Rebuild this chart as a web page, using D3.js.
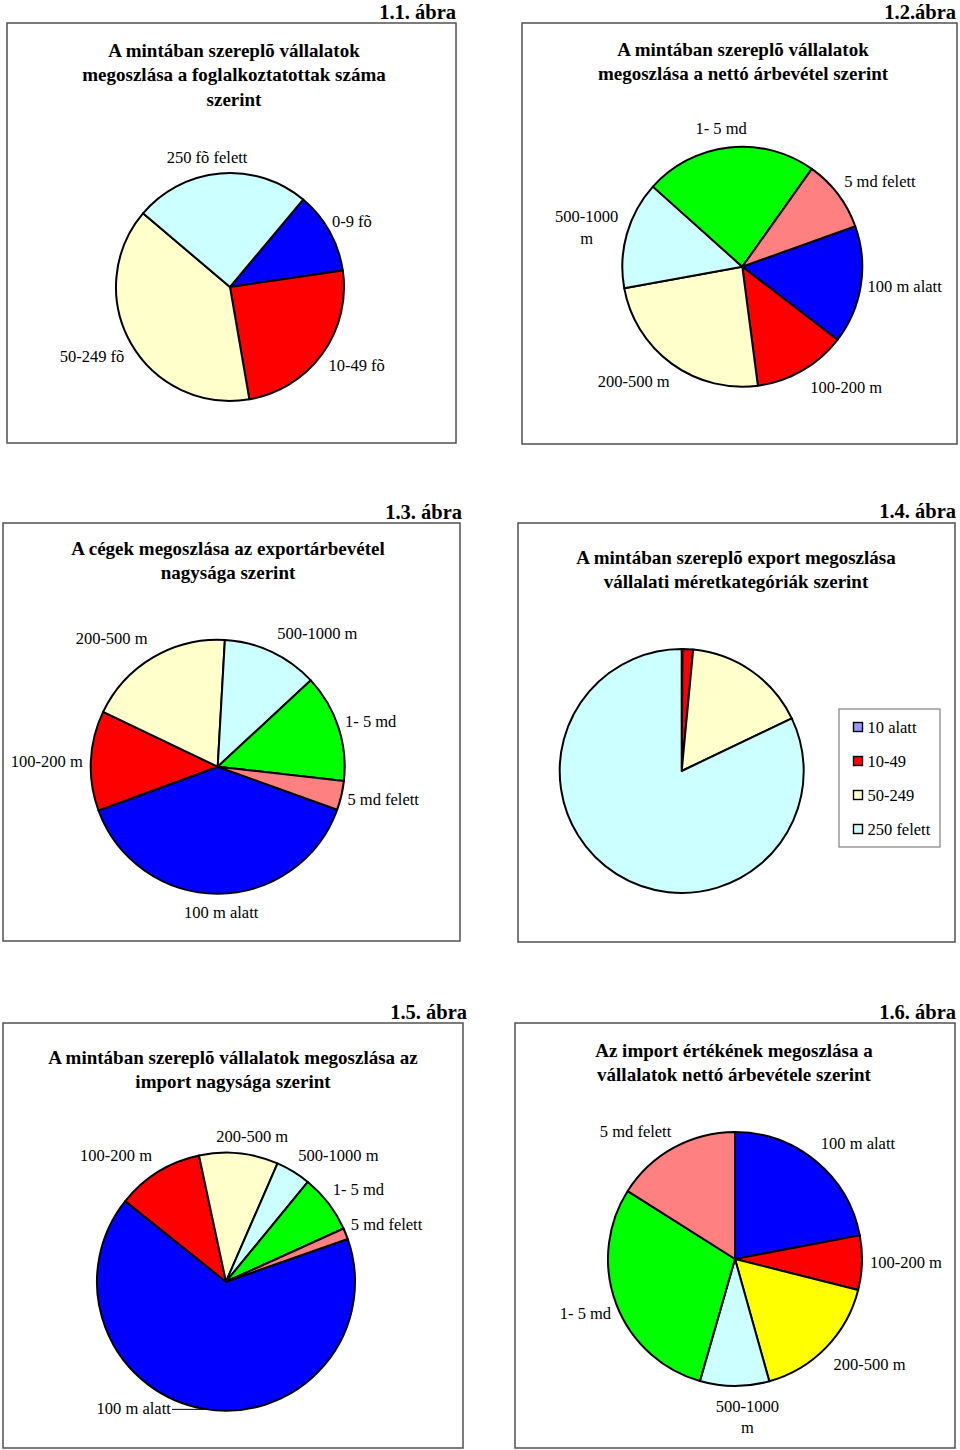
<!DOCTYPE html>
<html><head><meta charset="utf-8">
<script src="https://cdn.jsdelivr.net/npm/d3@7"></script>
<style>body{margin:0;background:#fff}svg{display:block}</style>
</head><body><svg id="c" width="960" height="1450"></svg>
<script>
// ---------- data ----------
const cats1 = ["0-9 fõ", "10-49 fõ", "50-249 fõ", "250 fõ felett"];
const vals1 = [11.6, 24.6, 38.9, 24.9];
const cats2 = ["100 m alatt", "100-200 m", "200-500 m", "500-1000 m", "1- 5 md", "5 md felett"];
const vals2 = [15.9, 12.5, 24.2, 14.5, 23.2, 9.7];
const cats3 = ["100 m alatt", "100-200 m", "200-500 m", "500-1000 m", "1- 5 md", "5 md felett"];
const vals3 = [38.9, 12.7, 18.8, 12.2, 13.7, 3.7];
const cats4 = ["10 alatt", "10-49", "50-249", "250 felett"];
const vals4 = [0.1, 1.4, 16.4, 82.1];
const cats5 = ["100 m alatt", "100-200 m", "200-500 m", "500-1000 m", "1- 5 md", "5 md felett"];
const vals5 = [66.1, 10.9, 9.9, 4.4, 7.3, 1.4];
const cats6 = ["100 m alatt", "100-200 m", "200-500 m", "500-1000 m", "1- 5 md", "5 md felett"];
const vals6 = [22.0, 6.9, 16.7, 8.8, 29.5, 16.0];

const titles1 = ["A mintában szereplõ vállalatok", "megoszlása a foglalkoztatottak száma", "szerint"];
const titles2 = ["A mintában szereplõ vállalatok", "megoszlása a nettó árbevétel szerint"];
const titles3 = ["A cégek megoszlása az exportárbevétel", "nagysága szerint"];
const titles4 = ["A mintában szereplõ export megoszlása", "vállalati méretkategóriák szerint"];
const titles5 = ["A mintában szereplõ vállalatok megoszlása az", "import nagysága szerint"];
const titles6 = ["Az import értékének megoszlása a", "vállalatok nettó árbevétele szerint"];
const tags = ["1.1. ábra", "1.2.ábra", "1.3. ábra", "1.4. ábra", "1.5. ábra", "1.6. ábra"];

// ---------- styles ----------
const colA = ["#0000FF", "#FF0000", "#FFFFCC", "#CCFFFF"];
const colB = ["#0000FF", "#FF0000", "#FFFFCC", "#CCFFFF", "#00FF00", "#FF8080"];
const colC = ["#9999FF", "#FF0000", "#FFFFCC", "#CCFFFF"];
const colD = ["#0000FF", "#FF0000", "#FFFF00", "#CCFFFF", "#00FF00", "#FF8080"];
const FONT = "'Liberation Serif','Times New Roman',serif";
const LBL = 16.5;

const svg = d3.select("#c");

const charts = [
  {cats: cats1, vals: vals1, cols: colA, titles: titles1, tag: tags[0],
   box: [7, 23, 456, 443], tagX: 456, tagY: 19, titleX: 234, titleY: 50, cx: 230, cy: 287, r: 114, start: 39.9,
   nudge: {0: [-2, 1], 1: [5, 4], 2: [-4, 7], 3: [-9, 3]}},
  {cats: cats2, vals: vals2, cols: colB, titles: titles2, tag: tags[1],
   box: [522, 23, 957, 444], tagX: 956, tagY: 19, titleX: 743, titleY: 49, cx: 742.3, cy: 266.7, r: 120, start: 70.3,
   wrap: [3], nudge: {0: [-1, 1], 1: [22, 5], 2: [-12, 7], 3: [-2, 3], 4: [-4, 0], 5: [7, 0]}},
  {cats: cats3, vals: vals3, cols: colB, titles: titles3, tag: tags[2],
   box: [3, 523, 460, 941], tagX: 462, tagY: 519, titleX: 228, titleY: 548, cx: 217.7, cy: 766.7, r: 127, start: 109.8,
   nudge: {0: [3, 4], 1: [0, 4], 2: [-19, -2], 3: [25, -1], 4: [0, 2], 5: [-1, 2]}},
  {cats: cats4, vals: vals4, cols: colC, titles: titles4, tag: tags[3],
   box: [518, 523, 955, 942], tagX: 956, tagY: 518, titleX: 736, titleY: 557, cx: 681.7, cy: 771, r: 122, start: 0,
   legend: {x: 839, y: 709, w: 101, h: 138}, nudge: {}},
  {cats: cats5, vals: vals5, cols: colB, titles: titles5, tag: tags[4],
   box: [3, 1023, 463, 1448], tagX: 467, tagY: 1019, titleX: 233, titleY: 1057, cx: 226, cy: 1281.7, r: 129, start: 70.7,
   leader: 0, nudge: {0: [-63, -15], 1: [-19, 0], 2: [9, 2], 3: [20, 0], 4: [3, -1], 5: [0, -1]}},
  {cats: cats6, vals: vals6, cols: colD, titles: titles6, tag: tags[5],
   box: [515, 1023, 955, 1448], tagX: 956, tagY: 1019, titleX: 734, titleY: 1050, cx: 735, cy: 1259, r: 127, start: 0,
   wrap: [3], nudge: {0: [13, -3], 1: [0, 1], 2: [12, 7], 3: [13, 6], 4: [1, 6], 5: [-17, 1]}}
];

charts.forEach(drawChart);

function drawChart(c) {
  const g = svg.append("g");
  const [x0, y0, x1, y1] = c.box;
  g.append("rect").attr("x", x0).attr("y", y0).attr("width", x1 - x0).attr("height", y1 - y0)
    .attr("fill", "none").attr("stroke", "#505050").attr("stroke-width", 1.5);
  g.append("text").attr("x", c.tagX).attr("y", c.tagY).attr("text-anchor", "end")
    .attr("font-family", FONT).attr("font-weight", "bold").attr("font-size", 20.5).text(c.tag);
  c.titles.forEach((t, i) => {
    g.append("text").attr("x", c.titleX).attr("y", c.titleY + i * 24.5).attr("dy", "0.35em")
      .attr("text-anchor", "middle").attr("font-family", FONT).attr("font-weight", "bold")
      .attr("font-size", 19).text(t);
  });
  const a0 = c.start * Math.PI / 180;
  const pie = d3.pie().sort(null).value(d => d).startAngle(a0).endAngle(a0 + 2 * Math.PI);
  const arc = d3.arc().innerRadius(0).outerRadius(c.r);
  const arcs = pie(c.vals);
  const pg = g.append("g").attr("transform", `translate(${c.cx},${c.cy})`);
  pg.selectAll("path").data(arcs).join("path").attr("d", arc)
    .attr("fill", (d, i) => c.cols[i]).attr("stroke", "#000").attr("stroke-width", 2)
    .attr("stroke-linejoin", "round");

  if (c.legend) {
    const L = c.legend;
    g.append("rect").attr("x", L.x).attr("y", L.y).attr("width", L.w).attr("height", L.h)
      .attr("fill", "#fff").attr("stroke", "#808080").attr("stroke-width", 1.2);
    c.cats.forEach((cat, i) => {
      const yy = L.y + 18 + i * 34;
      g.append("rect").attr("x", L.x + 14.5).attr("y", yy - 4.5).attr("width", 9).attr("height", 9)
        .attr("fill", c.cols[i]).attr("stroke", "#000").attr("stroke-width", 1.4);
      g.append("text").attr("x", L.x + 28.5).attr("y", yy).attr("dy", "0.35em")
        .attr("font-family", FONT).attr("font-size", LBL).text(cat);
    });
    return;
  }

  arcs.forEach((d, i) => {
    const mid = (d.startAngle + d.endAngle) / 2;
    const ux = Math.sin(mid), uy = -Math.cos(mid);
    let lines = [c.cats[i]];
    if (c.wrap && c.wrap.includes(i)) {
      const k = c.cats[i].lastIndexOf(" ");
      lines = [c.cats[i].slice(0, k), c.cats[i].slice(k + 1)];
    }
    const t = g.append("text").attr("font-family", FONT).attr("font-size", LBL).attr("text-anchor", "middle");
    lines.forEach((ln, j) => t.append("tspan").attr("x", 0).attr("y", j * 21.5).text(ln));
    const bb = t.node().getBBox();
    const w = bb.width, h = lines.length * 21.5 - 4;
    const gap = 8;
    const px = c.cx + (c.r + gap) * ux, py = c.cy + (c.r + gap) * uy;
    const nd = c.nudge[i] || [0, 0];
    const bx = px + ux * w / 2 + nd[0];
    const by = py + uy * h / 2 + nd[1];
    const top = by - h / 2;
    t.selectAll("tspan").attr("x", bx).attr("y", (q, j) => top + 12 + j * 21.5);
    if (c.leader === i) {
      const ly = by - 1;
      const dy = ly - c.cy;
      const ex = c.cx - Math.sqrt(Math.max(0, c.r * c.r - dy * dy));
      g.append("line").attr("x1", bx + w / 2 + 1).attr("x2", ex).attr("y1", ly).attr("y2", ly)
        .attr("stroke", "#000").attr("stroke-width", 1);
    }
  });
}
</script></body></html>
